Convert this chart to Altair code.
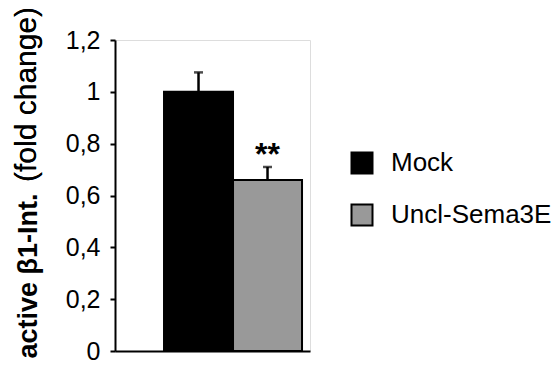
import altair as alt
import pandas as pd

groups = ["Mock", "Uncl-Sema3E"]
means = [1.0, 0.66]
errors = [0.075, 0.05]
signif = ["", "**"]
colors = ["#000000", "#999999"]
y_ticks = [0, 0.2, 0.4, 0.6, 0.8, 1.0, 1.2]

df = pd.DataFrame({"group": groups, "mean": means, "err": errors, "sig": signif})
df["top"] = df["mean"] + df["err"]

FONT = "Arial, 'Liberation Sans', sans-serif"

x_enc = alt.X(
    "group:N",
    sort=groups,
    scale=alt.Scale(domain=groups, paddingInner=0, paddingOuter=0.413, align=0.86),
    axis=alt.Axis(labels=False, ticks=False, title=None, domainColor="black", domainWidth=2),
)

y_axis = alt.Axis(
    values=y_ticks,
    labelExpr="replace(format(datum.value, '~g'), '.', ',')",
    tickSize=5, tickWidth=2, tickColor="black",
    domainColor="black", domainWidth=2,
    labelFontSize=25, labelColor="black", labelPadding=10, labelFont=FONT,
    grid=False,
    title="active β1-Int.",
    titleFont=FONT, titleFontWeight="bold", titleFontSize=27, titleColor="black",
    titleAngle=270, titleX=-79, titleY=318, titleAlign="left", titleBaseline="alphabetic",
)

base = alt.Chart(df)

bars = base.mark_bar(stroke="black", strokeWidth=2).encode(
    x=x_enc,
    y=alt.Y("mean:Q", scale=alt.Scale(domain=[0, 1.2], nice=False), axis=y_axis),
    fill=alt.Fill(
        "group:N",
        scale=alt.Scale(domain=groups, range=colors),
        legend=alt.Legend(
            title=None, orient="none", legendX=234, legendY=110,
            symbolType="square", symbolSize=441, symbolStrokeColor="black", symbolStrokeWidth=2,
            labelFontSize=26, labelFont=FONT, labelColor="black", labelOffset=16, rowPadding=22,
            labelLimit=400,
        ),
    ),
)

rule = base.mark_rule(color="black", strokeWidth=2.5).encode(
    x=alt.X("group:N", sort=groups), y="mean:Q", y2="top:Q"
)
cap = base.mark_tick(color="black", thickness=2.5, size=9).encode(
    x=alt.X("group:N", sort=groups), y="top:Q"
)
stars = base.mark_text(
    font=FONT, fontSize=32, fontWeight="bold", baseline="alphabetic", dy=-2, color="black"
).encode(x=alt.X("group:N", sort=groups), y="top:Q", text="sig:N")

sub_title = base.mark_text(
    font=FONT, fontSize=30, angle=270, align="left", baseline="alphabetic", color="black"
).encode(x=alt.value(-79), y=alt.value(142), text=alt.value("(fold change)"))

chart = (
    alt.layer(bars, rule, cap, stars, sub_title)
    .properties(
        width=195, height=311,
        padding={"left": 115, "top": 40, "right": 245, "bottom": 16},
        autosize=alt.AutoSizeParams(type="none"),
    )
    .configure_view(stroke=None)
    .configure(font=FONT)
)

chart.save("out.html", embed_options={"renderer": "svg", "actions": False})
